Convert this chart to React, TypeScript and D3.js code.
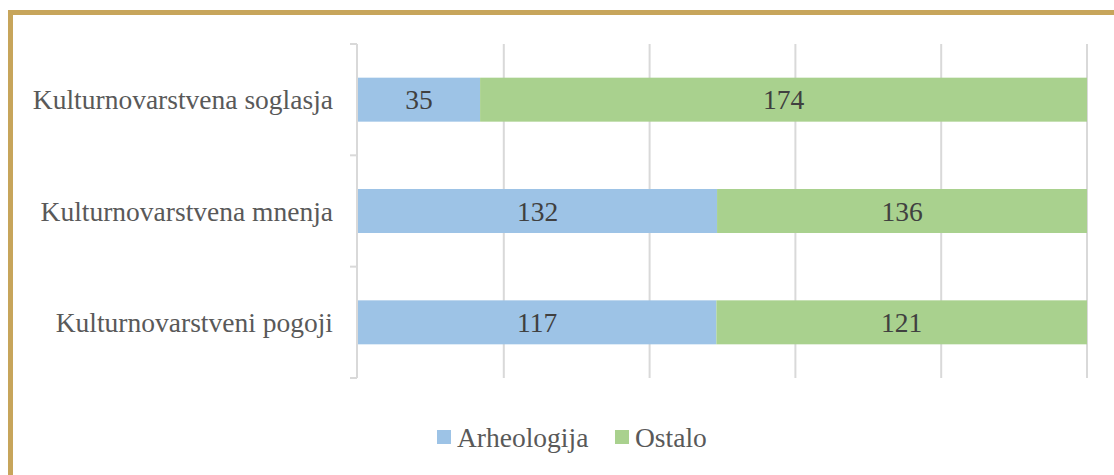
import React, { useRef, useEffect } from 'react';
import * as d3 from 'd3';

const categories = ['Kulturnovarstvena soglasja', 'Kulturnovarstvena mnenja', 'Kulturnovarstveni pogoji'];
const arheologija = [35, 132, 117];
const ostalo = [174, 136, 121];
const seriesNames = ['Arheologija', 'Ostalo'];
const gridTicks = [0, 0.2, 0.4, 0.6, 0.8, 1];

const App = () => {
  const ref = useRef<SVGSVGElement>(null);

  useEffect(() => {
    const svg = d3.select(ref.current);
    svg.selectAll('*').remove();

    const font = "'Liberation Serif', 'Times New Roman', serif";
    const fontSize = '27.5px';
    const colors = ['#9DC3E6', '#A9D18E'];

    // frame
    svg.append('rect')
      .attr('x', 10.5).attr('y', 12.5)
      .attr('width', 1200).attr('height', 600)
      .attr('fill', 'none')
      .attr('stroke', '#C7A55B')
      .attr('stroke-width', 5);

    const left = 358, right = 1087, top = 44, bottom = 378;

    const x = d3.scaleLinear().domain([0, 1]).range([left, right]);
    const y = d3.scaleBand<string>()
      .domain(categories)
      .range([top, bottom])
      .paddingInner(0.605)
      .paddingOuter(0.3025);

    // gridlines
    svg.append('g')
      .selectAll('line')
      .data(gridTicks.slice(1))
      .join('line')
      .attr('x1', d => x(d)).attr('x2', d => x(d))
      .attr('y1', top).attr('y2', bottom)
      .attr('stroke', '#D9D9D9')
      .attr('stroke-width', 2);

    // category axis
    const axis = svg.append('g');
    axis.append('line')
      .attr('x1', left - 1).attr('x2', left - 1)
      .attr('y1', top).attr('y2', bottom)
      .attr('stroke', '#D9D9D9').attr('stroke-width', 2);
    const step = y.step();
    const boundaries = d3.range(categories.length + 1).map(i => top + i * step);
    axis.selectAll('line.tick')
      .data(boundaries)
      .join('line')
      .attr('class', 'tick')
      .attr('x1', left - 8).attr('x2', left - 1)
      .attr('y1', d => d).attr('y2', d => d)
      .attr('stroke', '#D9D9D9').attr('stroke-width', 2);
    axis.selectAll('text')
      .data(categories)
      .join('text')
      .attr('x', 333)
      .attr('y', d => (y(d) as number) + y.bandwidth() / 2)
      .attr('dy', '0.35em')
      .attr('text-anchor', 'end')
      .attr('fill', '#595959')
      .style('font-family', font)
      .style('font-size', fontSize)
      .text(d => d);

    // stacked 100% bars
    const rows = categories.map((c, i) => ({ c, vals: [arheologija[i], ostalo[i]] }));
    rows.forEach(r => {
      const total = r.vals[0] + r.vals[1];
      let acc = 0;
      r.vals.forEach((v, k) => {
        const x0 = x(acc / total);
        const x1 = x((acc + v) / total);
        acc += v;
        svg.append('rect')
          .attr('x', x0).attr('width', x1 - x0)
          .attr('y', y(r.c) as number).attr('height', y.bandwidth())
          .attr('fill', colors[k]);
        svg.append('text')
          .attr('x', (x0 + x1) / 2)
          .attr('y', (y(r.c) as number) + y.bandwidth() / 2)
          .attr('dy', '0.35em')
          .attr('text-anchor', 'middle')
          .attr('fill', '#404040')
          .style('font-family', font)
          .style('font-size', fontSize)
          .text(v);
      });
    });

    // legend
    const legendX = [437, 615];
    const legend = svg.append('g');
    seriesNames.forEach((s, k) => {
      legend.append('rect')
        .attr('x', legendX[k]).attr('y', 430)
        .attr('width', 14).attr('height', 14)
        .attr('fill', colors[k]);
      legend.append('text')
        .attr('x', legendX[k] + 20).attr('y', 437)
        .attr('dy', '0.35em')
        .attr('fill', '#595959')
        .style('font-family', font)
        .style('font-size', fontSize)
        .text(s);
    });
  }, []);

  return (
    <svg ref={ref} width={1114} height={475}
      style={{ position: 'absolute', left: 0, top: 0, display: 'block', background: '#fff' }} />
  );
};

export default App;
